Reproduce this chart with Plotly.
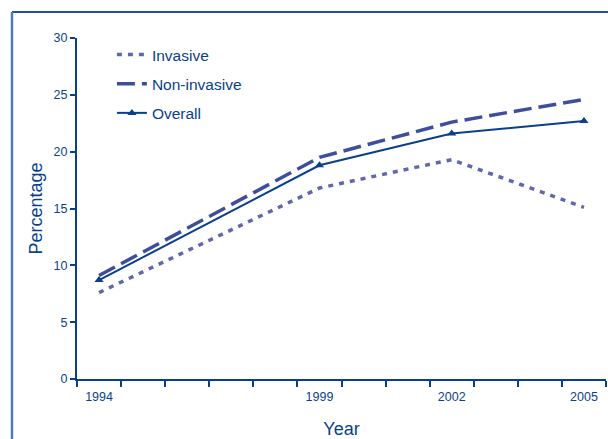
import plotly.graph_objects as go

years = [1994, 1999, 2002, 2005]
invasive = [7.6, 16.8, 19.3, 15.1]
non_invasive = [9.1, 19.5, 22.6, 24.6]
overall = [8.7, 18.8, 21.6, 22.7]
tick_years = [1994, 1999, 2002, 2005]
tick_labels = ["1994", "1999", "2002", "2005"]

AX = "#0A3F8C"
fig = go.Figure()
fig.add_trace(go.Scatter(x=years, y=invasive, name="Invasive", mode="lines", legendgroup="a",
                         line=dict(color="#6068AC", width=3.5, dash="5px,6px")))
fig.add_trace(go.Scatter(x=years, y=non_invasive, name="Non-invasive", mode="lines", legendgroup="b",
                         line=dict(color="#3F4E9A", width=3.5, dash="18px,7px")))
fig.add_trace(go.Scatter(x=years, y=overall, name="Overall", mode="lines+markers", legendgroup="c",
                         line=dict(color="#0A3F8C", width=2),
                         marker=dict(symbol="triangle-up", size=8, color="#0A3F8C")))

fig.update_layout(
    width=608, height=439,
    margin=dict(l=77, r=2, t=38, b=60),
    paper_bgcolor="white", plot_bgcolor="white",
    font=dict(family="Liberation Sans, Arial", color=AX),
    showlegend=True,
    legend=dict(x=0.066, y=1.0, xanchor="left", yanchor="top",
                font=dict(size=15.5, color=AX), bgcolor="rgba(0,0,0,0)",
                tracegroupgap=6, itemwidth=30),
    xaxis=dict(range=[1993.5, 2005.5], tickvals=tick_years, ticktext=tick_labels,
               ticks="outside", ticklen=0, tickcolor=AX, ticklabelstandoff=5,
               tickfont=dict(size=12.5, color=AX),
               showline=True, linecolor=AX, linewidth=2, showgrid=False, zeroline=False,
               minor=dict(tick0=1993.5, dtick=1, ticks="outside", ticklen=6,
                          tickcolor=AX, tickwidth=1.5, showgrid=False),
               title=dict(text="Year", font=dict(size=18, color=AX), standoff=19)),
    yaxis=dict(range=[0, 30], dtick=5, ticks="outside", ticklen=5, tickcolor=AX, tickwidth=1.5,
               tickfont=dict(size=12.5, color=AX),
               showline=True, linecolor=AX, linewidth=2, showgrid=False, zeroline=False,
               title=dict(text="Percentage", font=dict(size=18, color=AX), standoff=6)),
    shapes=[
        dict(type="line", xref="paper", yref="paper", x0=-0.1229, x1=1.1, y0=1.076, y1=1.076,
             line=dict(color="#1F50A0", width=2)),
        dict(type="line", xref="paper", yref="paper", x0=-0.1229, x1=-0.1229, y0=1.076, y1=-0.3,
             line=dict(color="#4F7DB8", width=2.5)),
    ],
)
fig.write_html("out.html", config={"displayModeBar": False},
               post_script="document.body.style.margin='0px';")
